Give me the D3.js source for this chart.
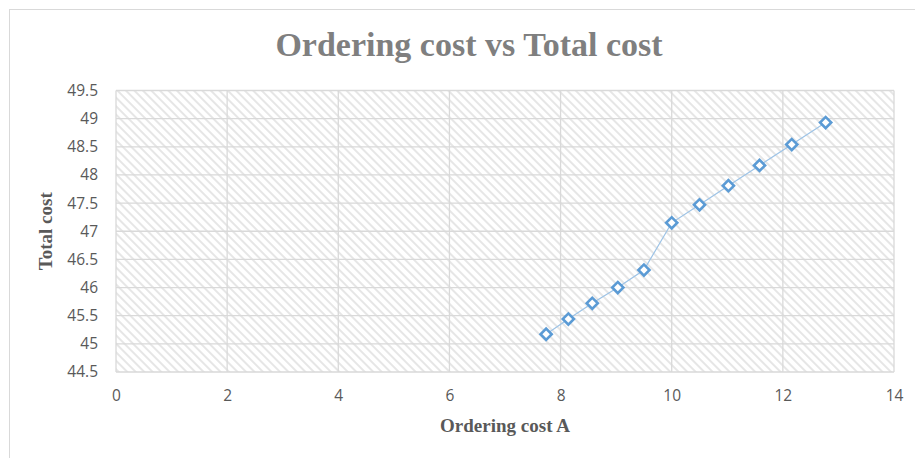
<!DOCTYPE html>
<html>
<head>
<meta charset="utf-8">
<script src="https://cdn.jsdelivr.net/npm/d3@7"></script>
<style>
	body { margin: 0; background: #fff; }
	svg text { fill: #595959; }
</style>
</head>
<body>
<div id="chart"></div>
<script>
// values
var orderingCost = [7.74, 8.14, 8.57, 9.03, 9.50, 10.0, 10.50, 11.02, 11.58, 12.16, 12.77];
var totalCost = [45.17, 45.44, 45.72, 46.00, 46.31, 47.15, 47.47, 47.81, 48.17, 48.54, 48.93];
var xTicks = [0, 2, 4, 6, 8, 10, 12, 14];
var yTicks = [44.5, 45, 45.5, 46, 46.5, 47, 47.5, 48, 48.5, 49, 49.5];

var W = 915, H = 458;
var m = { left: 116, right: 21, top: 90.5, bottom: 86 };

var svg = d3.select('#chart').append('svg')
	.attr('width', W)
	.attr('height', H);

// hatch pattern of the plot area
var defs = svg.append('defs');
var pat = defs.append('pattern')
	.attr('id', 'hatch')
	.attr('patternUnits', 'userSpaceOnUse')
	.attr('width', 6)
	.attr('height', 6)
	.attr('patternTransform', 'rotate(-45)');
pat.append('rect').attr('width', 6).attr('height', 6).attr('fill', '#fff');
pat.append('rect').attr('x', 0).attr('y', 0).attr('width', 2).attr('height', 6).attr('fill', '#e6e6e6');

// outer chart border
svg.append('rect')
	.attr('x', 9.5).attr('y', 9.5)
	.attr('width', W + 20).attr('height', H + 20)
	.attr('fill', 'none')
	.attr('stroke', '#d9d9d9');

var x = d3.scaleLinear().domain([0, 14]).range([m.left, W - m.right]);
var y = d3.scaleLinear().domain([44.5, 49.5]).range([H - m.bottom, m.top]);

svg.append('rect')
	.attr('x', x(0)).attr('y', y(49.5))
	.attr('width', x(14) - x(0)).attr('height', y(44.5) - y(49.5))
	.attr('fill', 'url(#hatch)');

// gridlines
svg.append('g').selectAll('line')
	.data(yTicks)
	.enter()
	.append('line')
	.attr('x1', x(0)).attr('x2', x(14))
	.attr('y1', function(d){ return y(d); })
	.attr('y2', function(d){ return y(d); })
	.attr('stroke', '#d9d9d9')
	.attr('stroke-width', 1.3);

svg.append('g').selectAll('line')
	.data(xTicks)
	.enter()
	.append('line')
	.attr('y1', y(44.5)).attr('y2', y(49.5))
	.attr('x1', function(d){ return x(d); })
	.attr('x2', function(d){ return x(d); })
	.attr('stroke', '#d9d9d9')
	.attr('stroke-width', 1.3);

// axes (labels only)
var xAxis = svg.append('g')
	.attr('transform', 'translate(0,' + y(44.5) + ')')
	.call(d3.axisBottom(x).tickValues(xTicks).tickSize(0).tickPadding(18).tickFormat(d3.format('d')));
var yAxis = svg.append('g')
	.attr('transform', 'translate(' + x(0) + ',0)')
	.call(d3.axisLeft(y).tickValues(yTicks).tickSize(0).tickPadding(18).tickFormat(function(d){ return String(d); }));
[xAxis, yAxis].forEach(function(a){
	a.select('.domain').remove();
	a.selectAll('text')
		.attr('font-family', 'Open Sans, sans-serif')
		.attr('font-size', 15.5)
		.attr('fill', '#595959');
});

// line + markers
var pts = orderingCost.map(function(d, i){ return [d, totalCost[i]]; });
svg.append('path')
	.datum(pts)
	.attr('fill', 'none')
	.attr('stroke', '#9dc3e6')
	.attr('stroke-width', 1.2)
	.attr('d', d3.line().x(function(d){ return x(d[0]); }).y(function(d){ return y(d[1]); }));

svg.append('g').selectAll('path')
	.data(pts)
	.enter()
	.append('path')
	.attr('d', d3.symbol().type(d3.symbolSquare).size(62))
	.attr('transform', function(d){ return 'translate(' + x(d[0]) + ',' + y(d[1]) + ') rotate(45)'; })
	.attr('fill', '#fff')
	.attr('stroke', '#5b9bd5')
	.attr('stroke-width', 2.6);

// titles
svg.append('text')
	.attr('x', 469).attr('y', 56)
	.attr('text-anchor', 'middle')
	.attr('font-family', 'Liberation Serif, Times New Roman, serif')
	.attr('font-weight', 'bold')
	.attr('font-size', 34)
	.style('fill', '#7f7f7f')
	.text('Ordering cost vs Total cost');

svg.append('text')
	.attr('x', (x(0) + x(14)) / 2).attr('y', 432)
	.attr('text-anchor', 'middle')
	.attr('font-family', 'Liberation Serif, Times New Roman, serif')
	.attr('font-weight', 'bold')
	.attr('font-size', 19)
	.text('Ordering cost A');

svg.append('text')
	.attr('transform', 'translate(52,' + (y(44.5) + y(49.5)) / 2 + ') rotate(-90)')
	.attr('text-anchor', 'middle')
	.attr('font-family', 'Liberation Serif, Times New Roman, serif')
	.attr('font-weight', 'bold')
	.attr('font-size', 19)
	.text('Total cost');
</script>
</body>
</html>
